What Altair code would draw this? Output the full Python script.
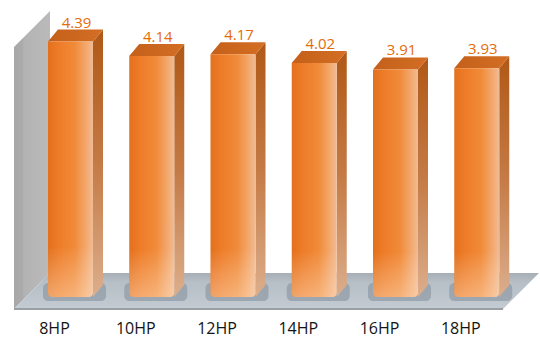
import altair as alt
import pandas as pd

# Data
categories = ["8HP", "10HP", "12HP", "14HP", "16HP", "18HP"]
values = [4.39, 4.14, 4.17, 4.02, 3.91, 3.93]
axis_max = 4.5

# Layout in pixels
W, H = 540, 340
STEP = 81.25      # distance between bar centres
UNIT = 58.2       # pixels per value unit
X0 = 70.5         # centre of the first bar
BASE = 297        # baseline of the bar plane
FACE = 45         # front face width
BAR_DX, BAR_DY = 10, 12          # bar depth (right, up)
FRONT_LEFT, FRONT_RIGHT, FRONT_Y = 14, 503, 309   # front edge of the floor
BOX_DX, BOX_DY = 36, 36                            # depth of the floor / wall


def xi(p):
    return (p - X0) / STEP


def yv(p):
    return (BASE - p) / UNIT


hw = FACE / 2 / STEP
ddx = BAR_DX / STEP
ddy = BAR_DY / UNIT

xs = alt.Scale(domain=[xi(0), xi(W)], nice=False, zero=False)
ys = alt.Scale(domain=[yv(H), yv(0)], nice=False, zero=False)


def X(field):
    return alt.X(field, type="quantitative", scale=xs, axis=None)


def Y(field):
    return alt.Y(field, type="quantitative", scale=ys, axis=None)


def grad(stops, vertical=False):
    return alt.Gradient(
        gradient="linear",
        stops=[alt.GradientStop(offset=o, color=c) for o, c in stops],
        x1=0, y1=0, x2=0 if vertical else 1, y2=1 if vertical else 0,
    )


bars = pd.DataFrame({"cat": categories, "i": range(len(categories)), "v": values})
bars["x1"] = bars["i"] - hw
bars["x2"] = bars["i"] + hw
bars["y0"] = 0.0

# side faces and top caps of the bars
side_rows, cap_rows = [], []
for i, (c, v) in enumerate(zip(categories, values)):
    side_rows.append({"cat": c, "x": i + hw, "lo": 0.0, "hi": v})
    side_rows.append({"cat": c, "x": i + hw + ddx, "lo": ddy, "hi": v + ddy})
    cap_rows.append({"cat": c, "y": v, "xa": i - hw, "xb": i + hw})
    cap_rows.append({"cat": c, "y": v + ddy, "xa": i - hw + ddx, "xb": i + hw + ddx})
side = pd.DataFrame(side_rows)
cap = pd.DataFrame(cap_rows)

shadow = bars.copy()
shadow["sx1"] = shadow["i"] - hw - 5 / STEP
shadow["sx2"] = shadow["i"] + hw + ddx + 3 / STEP
shadow["sy1"] = -4 / UNIT
shadow["sy2"] = ddy + 2 / UNIT

# floor and side wall
f0, b0 = yv(FRONT_Y), yv(FRONT_Y - BOX_DY)
floor = pd.DataFrame({
    "y": [f0, b0],
    "xa": [xi(FRONT_LEFT), xi(FRONT_LEFT + BOX_DX)],
    "xb": [xi(FRONT_RIGHT), xi(FRONT_RIGHT + BOX_DX)],
})
floor_edge = pd.DataFrame({"xa": [xi(FRONT_LEFT)], "xb": [xi(FRONT_RIGHT)], "y": [f0]})
wall = pd.DataFrame({
    "x": [xi(FRONT_LEFT), xi(FRONT_LEFT + BOX_DX)],
    "lo": [f0, b0],
    "hi": [f0 + axis_max, b0 + axis_max],
})

labels = bars.copy()
labels["ly"] = yv(334)

wall_layer = alt.Chart(wall).mark_area(
    color=grad([(0, "#A8A8A8"), (0.25, "#ABABAB"), (0.27, "#B3B3B3"), (1, "#BABABA")])
).encode(x=X("x"), y=Y("lo"), y2="hi")

floor_layer = alt.Chart(floor).mark_area(
    orient="horizontal",
    color=grad([(0, "#A7AEB5"), (0.25, "#B6BEC6"), (1, "#C4CBD2")], vertical=True),
).encode(y=Y("y"), x=X("xa"), x2="xb")

edge_layer = alt.Chart(floor_edge).mark_rule(color="#9A9FA4", strokeWidth=2).encode(
    x=X("xa"), x2="xb", y=Y("y")
)

shadow_layer = alt.Chart(shadow).mark_rect(
    color="#8A97A3", opacity=0.65, cornerRadius=5
).encode(x=X("sx1"), x2="sx2", y=Y("sy1"), y2="sy2")

side_layer = alt.Chart(side).mark_area(
    color=grad([(0, "#B05816"), (0.5, "#C47A45"), (1, "#DCAE8C")], vertical=True)
).encode(x=X("x"), y=Y("lo"), y2="hi", detail="cat:N")

cap_layer = alt.Chart(cap).mark_area(
    orient="horizontal",
    color=grad([(0, "#C4601A"), (1, "#D46E24")]),
).encode(y=Y("y"), x=X("xa"), x2="xb", detail="cat:N")

front_layer = alt.Chart(bars).mark_rect(
    color=grad([
        (0, "#E2701C"), (0.25, "#EE7C28"), (0.6, "#F08B3A"),
        (0.85, "#F3A86E"), (1, "#EFBC96"),
    ]),
    cornerRadiusBottomLeft=4, cornerRadiusBottomRight=4,
).encode(x=X("x1"), x2="x2", y=Y("v"), y2="y0")

glow_layer = alt.Chart(bars).mark_rect(
    color=grad([
        (0, "rgba(255,235,215,0)"), (0.8, "rgba(255,235,215,0)"),
        (1, "rgba(255,225,195,0.45)"),
    ], vertical=True),
    cornerRadiusBottomLeft=4, cornerRadiusBottomRight=4,
).encode(x=X("x1"), x2="x2", y=Y("v"), y2="y0")

value_layer = alt.Chart(bars).mark_text(
    font="Open Sans", fontSize=15, color="#E36C0A",
    align="center", baseline="alphabetic", dx=6, dy=-14,
).encode(x=X("i"), y=Y("v"), text=alt.Text("v:Q", format=".2f"))

cat_layer = alt.Chart(labels).mark_text(
    font="Open Sans", fontSize=16, color="#141414",
    align="center", baseline="alphabetic", dx=-16,
).encode(x=X("i"), y=Y("ly"), text="cat:N")

chart = alt.layer(
    wall_layer, floor_layer, edge_layer, shadow_layer,
    side_layer, cap_layer, front_layer, glow_layer,
    value_layer, cat_layer,
).properties(
    width=W, height=H, padding=0, background="white",
    autosize=alt.AutoSizeParams(type="none"),
).configure_view(stroke=None)

chart.save("out.html", embed_options={"renderer": "svg", "actions": False})
